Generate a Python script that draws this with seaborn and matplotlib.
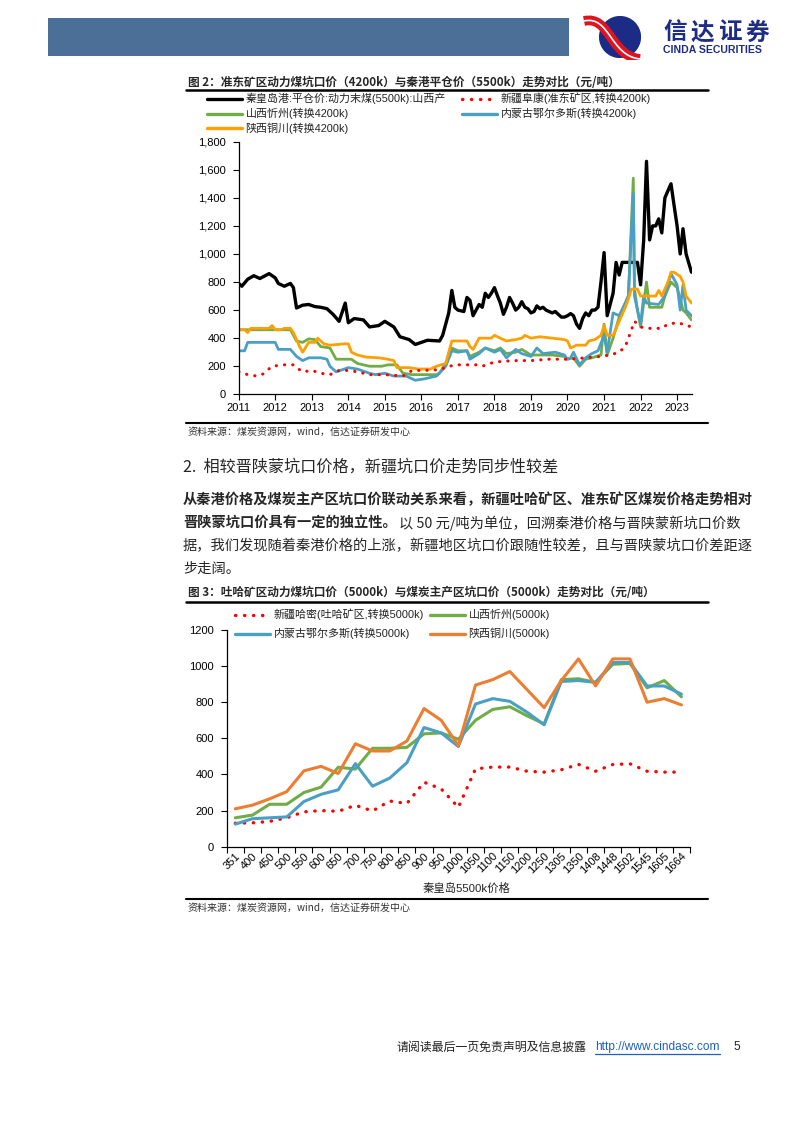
import numpy as np
import pandas as pd
import matplotlib.pyplot as plt
import matplotlib.dates as mdates
import seaborn as sns
from matplotlib.lines import Line2D
from matplotlib.patches import Rectangle, Circle, PathPatch
from matplotlib.path import Path
from matplotlib.ticker import FuncFormatter, MultipleLocator

# ---------------- 图2 data (thinned to turning points) ----------------
qhd_dates = ['2011-01', '2011-02', '2011-04', '2011-06', '2011-08', '2011-11', '2012-01', '2012-02',
             '2012-04', '2012-06', '2012-07', '2012-08', '2012-10', '2012-12', '2013-02', '2013-04',
             '2013-06', '2013-08', '2013-10', '2013-12', '2014-01', '2014-03', '2014-06', '2014-08',
             '2014-11', '2015-01', '2015-04', '2015-06', '2015-09', '2015-11', '2016-01', '2016-03',
             '2016-07', '2016-08', '2016-10', '2016-11', '2016-12', '2017-01', '2017-03', '2017-04',
             '2017-05', '2017-06', '2017-07', '2017-08', '2017-09', '2017-10', '2017-11', '2017-12',
             '2018-01', '2018-02', '2018-03', '2018-04', '2018-05', '2018-06', '2018-07', '2018-08',
             '2018-09', '2018-10', '2018-11', '2018-12', '2019-01', '2019-02', '2019-03', '2019-04',
             '2019-05', '2019-06', '2019-07', '2019-08', '2019-09', '2019-10', '2019-11', '2019-12',
             '2020-01', '2020-02', '2020-03', '2020-04', '2020-05', '2020-06', '2020-07', '2020-08',
             '2020-09', '2020-10', '2020-11', '2020-12', '2021-01', '2021-02', '2021-04', '2021-05',
             '2021-06', '2021-07', '2021-12', '2022-01', '2022-02', '2022-03', '2022-04', '2022-05',
             '2022-06', '2022-07', '2022-08', '2022-09', '2022-10', '2022-11', '2022-12', '2023-01',
             '2023-02', '2023-03', '2023-04', '2023-05-25']
qhd_vals = [790, 770, 820, 845, 825, 860, 830, 790,
            770, 790, 760, 615, 635, 640, 625, 620,
            610, 570, 520, 650, 510, 540, 530, 480,
            490, 520, 480, 410, 390, 355, 370, 385,
            380, 420, 580, 740, 620, 600, 590, 690,
            670, 560, 600, 640, 620, 720, 690, 720,
            760, 700, 650, 570, 620, 690, 650, 600,
            620, 660, 620, 610, 580, 590, 630, 610,
            620, 600, 590, 580, 590, 570, 550, 550,
            560, 575, 560, 500, 470, 540, 580, 560,
            600, 600, 620, 800, 1010, 560, 720, 940,
            850, 940, 940, 780, 1100, 1660, 1100, 1200,
            1200, 1250, 1150, 1400, 1450, 1500, 1350, 1200,
            1000, 1180, 1000, 870]

fukang_dates = ['2011-01', '2011-04', '2011-07', '2011-09', '2011-12', '2012-04', '2012-07', '2012-08',
                '2012-10', '2013-01', '2013-04', '2013-07', '2013-10', '2014-01', '2014-04', '2014-08',
                '2015-01', '2015-07', '2015-10', '2016-01', '2016-07', '2016-10', '2017-01', '2017-07',
                '2017-09', '2018-01', '2018-07', '2019-01', '2019-07', '2020-01', '2020-07', '2020-12',
                '2021-03', '2021-06', '2021-08', '2021-09', '2021-11', '2022-01', '2022-03', '2022-08',
                '2022-10', '2023-01', '2023-03', '2023-05-25']
fukang_vals = [160, 140, 130, 145, 200, 210, 210, 190,
               160, 170, 150, 140, 170, 170, 160, 140,
               140, 130, 170, 170, 175, 200, 210, 210,
               200, 230, 240, 240, 250, 250, 260, 270,
               280, 300, 340, 400, 520, 480, 470, 470,
               500, 510, 500, 480]

xz_dates = ['2011-01', '2012-06', '2012-08', '2012-10', '2012-12', '2013-02', '2013-04', '2013-07',
            '2013-09', '2014-02', '2014-04', '2014-08', '2014-12', '2015-02', '2015-05', '2015-07',
            '2015-10', '2016-06', '2016-07', '2016-09', '2016-11', '2017-01', '2017-04', '2017-05',
            '2017-08', '2017-10', '2018-01', '2018-03', '2018-05', '2018-08', '2018-10', '2019-01',
            '2019-04', '2019-08', '2019-12', '2020-01', '2020-03', '2020-05', '2020-07', '2020-09',
            '2020-12', '2021-01', '2021-02', '2021-04', '2021-06', '2021-08', '2021-09', '2021-10-20',
            '2021-11', '2021-12', '2022-01', '2022-02', '2022-03', '2022-04', '2022-08', '2022-09',
            '2022-11', '2023-01', '2023-02', '2023-03', '2023-04', '2023-05-25']
xz_vals = [460, 460, 380, 370, 395, 390, 340, 330,
           250, 250, 220, 200, 200, 210, 210, 150,
           140, 140, 150, 220, 330, 310, 310, 270,
           300, 330, 310, 330, 290, 300, 320, 280,
           280, 280, 270, 250, 260, 200, 250, 260,
           280, 500, 280, 400, 550, 650, 700, 1540,
           750, 600, 480, 650, 800, 620, 620, 700,
           800, 760, 680, 600, 580, 530]

eeds_dates = ['2011-01', '2011-03', '2011-04', '2012-01', '2012-02', '2012-06', '2012-08', '2012-10',
              '2012-12', '2013-04', '2013-06', '2013-07', '2013-09', '2014-01', '2014-04', '2014-08',
              '2014-10', '2015-01', '2015-04', '2015-08', '2015-11', '2016-02', '2016-04', '2016-06',
              '2016-09', '2016-11', '2017-01', '2017-04', '2017-05', '2017-08', '2017-10', '2018-01',
              '2018-03', '2018-05', '2018-08', '2018-10', '2019-01', '2019-03', '2019-05', '2019-09',
              '2019-12', '2020-01', '2020-02', '2020-03', '2020-05', '2020-07', '2020-09', '2020-11',
              '2021-01', '2021-02', '2021-04', '2021-06', '2021-08', '2021-09', '2021-10-20', '2021-11',
              '2021-12', '2022-01', '2022-02', '2022-03', '2022-07', '2022-09', '2022-11', '2023-01',
              '2023-02', '2023-03', '2023-04', '2023-05-25']
eeds_vals = [310, 310, 370, 370, 320, 320, 270, 240,
             260, 260, 250, 200, 160, 190, 180, 150,
             140, 150, 130, 130, 100, 110, 120, 130,
             200, 310, 300, 310, 250, 290, 330, 300,
             320, 260, 320, 290, 270, 330, 290, 300,
             280, 250, 260, 300, 210, 260, 290, 310,
             420, 300, 580, 560, 650, 700, 1430, 700,
             600, 500, 700, 650, 640, 700, 860, 780,
             600, 780, 600, 560]

tc_dates = ['2011-01', '2011-03', '2011-04', '2011-05', '2011-11', '2011-12', '2012-01', '2012-03',
            '2012-04', '2012-06', '2012-07', '2012-09', '2012-10', '2012-12', '2013-02', '2013-03',
            '2013-05', '2013-07', '2013-12', '2014-01', '2014-02', '2014-04', '2014-07', '2014-11',
            '2015-02', '2015-04', '2015-05', '2015-09', '2015-12', '2016-04', '2016-06', '2016-09',
            '2016-10', '2016-11', '2017-04', '2017-05', '2017-06', '2017-08', '2017-12', '2018-01',
            '2018-03', '2018-05', '2018-08', '2018-10', '2018-11', '2019-01', '2019-04', '2019-08',
            '2019-12', '2020-01', '2020-02', '2020-04', '2020-07', '2020-08', '2020-10', '2020-12',
            '2021-01', '2021-02', '2021-04', '2021-06', '2021-08', '2021-09', '2021-10', '2021-12',
            '2022-01', '2022-06', '2022-07', '2022-08', '2022-10', '2022-11', '2022-12', '2023-02',
            '2023-03', '2023-04', '2023-05-25']
tc_vals = [460, 460, 440, 470, 470, 490, 460, 460,
           470, 470, 440, 340, 300, 370, 370, 400,
           360, 350, 360, 360, 300, 280, 265, 260,
           250, 240, 190, 190, 180, 180, 200, 220,
           300, 380, 380, 340, 320, 400, 400, 420,
           400, 380, 390, 400, 420, 400, 410, 400,
           390, 380, 330, 350, 350, 380, 390, 420,
           490, 420, 420, 520, 620, 680, 750, 750,
           700, 700, 740, 700, 800, 870, 870, 840,
           800, 700, 650]

# ---------------- 图3 data ----------------
qhd_price = ['351', '400', '450', '500', '550', '600', '650', '700', '750', '800', '850', '900', '950',
             '1000', '1050', '1100', '1150', '1200', '1250', '1305', '1350', '1408', '1448', '1502',
             '1545', '1605', '1664']
hami = [130, 132, 140, 160, 193, 200, 196, 229, 198, 253, 239, 357, 320,
        218, 431, 441, 441, 418, 413, 426, 456, 418, 455, 459, 418, 413, 413]
xinzhou = [160, 175, 235, 235, 300, 330, 440, 430, 545, 545, 550, 625, 630,
           595, 700, 760, 775, 725, 680, 925, 930, 910, 1010, 1015, 880, 920, 830]
ordos = [125, 155, 160, 165, 250, 290, 315, 460, 335, 380, 465, 660, 630,
         555, 790, 820, 805, 745, 675, 915, 920, 910, 1020, 1020, 890, 890, 845]
tongchuan = [210, 230, 265, 305, 420, 445, 405, 570, 530, 530, 585, 765, 700,
             560, 895, 925, 970, 870, 770, 920, 1040, 890, 1040, 1040, 800, 820, 785]

RED, GREEN, BLUE, ORANGE = '#ff0000', '#70ad47', '#4a9fc4', '#ffa000'
DOT = (0, (0.1, 2.6))


def dt(d):
    return pd.to_datetime(d, format='ISO8601')


sns.set_theme(style='ticks', rc={"axes.spines.right": False, "axes.spines.top": False})
plt.rcParams['font.family'] = ['Liberation Sans', 'Noto Sans CJK SC']
plt.rcParams['axes.unicode_minus'] = False
CJK = ['Noto Sans CJK SC', 'DejaVu Sans']

W, H = 793, 1122
fig = plt.figure(figsize=(W / 100, H / 100), dpi=100)
fig.patch.set_facecolor('white')


def fx(x):
    return x / W


def fy(y):
    return 1 - y / H


def txt(x, y, s, size=8, **kw):
    kw.setdefault('va', 'center')
    return fig.text(fx(x), fy(y), s, fontsize=size, **kw)


def rule(x0, x1, y, lw=1.8, color='black'):
    fig.add_artist(Line2D([fx(x0), fx(x1)], [fy(y), fy(y)], lw=lw, color=color,
                          transform=fig.transFigure))


def leg(x, y, label, color, lw=2.4, length=35, dotted=False):
    kw = dict(linestyle=DOT, dash_capstyle='round', lw=2.4) if dotted else dict(lw=lw)
    fig.add_artist(Line2D([fx(x), fx(x + length)], [fy(y), fy(y)], color=color,
                          transform=fig.transFigure, **kw))
    txt(x + length + 3.5, y, label, size=7.9, color='#222222')


# ---------------- header ----------------
fig.add_artist(Rectangle((fx(48), fy(56)), (569 - 48) / W, 38 / H, transform=fig.transFigure,
                         color='#4b6f97', lw=0))
axl = fig.add_axes([fx(580), fy(60), 70 / W, 46 / H])
axl.set_xlim(0, 70)
axl.set_ylim(0, 46)
axl.axis('off')
circ = Circle((40, 23), 21, color='#1c2b86', lw=0)
axl.add_patch(circ)
gx, gy = np.meshgrid(np.linspace(0, 1, 60), np.linspace(0, 1, 60))
shade = np.clip(1.15 - np.hypot(gx - 0.15, gy - 0.85) * 1.1, 0, 1)
im = axl.imshow(shade, extent=(19, 61, 2, 44), origin='lower', cmap='Blues_r', vmin=-0.2, vmax=1.6,
                alpha=0.8)
im.set_clip_path(circ)
sw = Path([(4, 39), (30, 45), (30, 4), (60, 1)], [Path.MOVETO, Path.CURVE4, Path.CURVE4, Path.CURVE4])
axl.add_patch(PathPatch(sw, fc='none', ec='#e0141e', lw=7, capstyle='butt'))
axl.add_patch(PathPatch(sw, fc='none', ec='white', lw=1.2))
for i, ch in enumerate('信达证券'):
    txt(663 + i * 27.5, 33, ch, size=17, weight='bold', color='#1d2c86', family=CJK)
txt(663, 50, 'CINDA SECURITIES', size=7.6, weight='bold', color='#1d2c86')

# ---------------- 图2 ----------------
txt(188, 82, '图 2：准东矿区动力煤坑口价（4200k）与秦港平仓价（5500k）走势对比（元/吨）',
    size=8.4, weight='bold', family=CJK)
rule(186, 708, 90)

leg(207, 98.5, '秦皇岛港:平仓价:动力末煤(5500k):山西产', 'black')
leg(462, 98.5, '新疆阜康(准东矿区,转换4200k)', RED, dotted=True)
leg(207, 113.5, '山西忻州(转换4200k)', GREEN)
leg(462, 113.5, '内蒙古鄂尔多斯(转换4200k)', BLUE)
leg(207, 128, '陕西铜川(转换4200k)', ORANGE)

ax1 = fig.add_axes([fx(238.7), fy(394.3), (692 - 238.7) / W, (394.3 - 141.7) / H])
ax1.patch.set_alpha(0)
sns.lineplot(x=dt(qhd_dates), y=qhd_vals, ax=ax1, color='black', lw=2.4)
sns.lineplot(x=dt(xz_dates), y=xz_vals, ax=ax1, color=GREEN, lw=2.0)
sns.lineplot(x=dt(eeds_dates), y=eeds_vals, ax=ax1, color=BLUE, lw=2.0)
sns.lineplot(x=dt(tc_dates), y=tc_vals, ax=ax1, color=ORANGE, lw=2.0)
sns.lineplot(x=dt(fukang_dates), y=fukang_vals, ax=ax1, color=RED, lw=2.2,
             linestyle=DOT, dash_capstyle='round')

ax1.set_xlim(pd.Timestamp('2011-01-01'), pd.Timestamp('2023-05-30'))
ax1.set_ylim(0, 1800)
ax1.yaxis.set_major_locator(MultipleLocator(200))
ax1.yaxis.set_major_formatter(FuncFormatter(lambda v, p: f'{v:,.0f}'))
ax1.xaxis.set_major_locator(mdates.YearLocator())
ax1.xaxis.set_major_formatter(mdates.DateFormatter('%Y'))
ax1.set_xlabel('')
ax1.set_ylabel('')

rule(186, 708, 423, lw=1.5)
txt(188, 432, '资料来源：煤炭资源网，wind，信达证券研发中心', size=7.2, color='#333333', family=CJK,
    style='italic')

# ---------------- text ----------------
txt(183, 467, '2.  相较晋陕蒙坑口价格，新疆坑口价走势同步性较差', size=11.6, family=CJK)
txt(183, 500, '从秦港价格及煤炭主产区坑口价联动关系来看，新疆吐哈矿区、准东矿区煤炭价格走势相对',
    size=10.25, weight='bold', family=CJK)
b = txt(183, 523, '晋陕蒙坑口价具有一定的独立性。', size=10.25, weight='bold', family=CJK)
bb = b.get_window_extent(renderer=fig.canvas.get_renderer())
txt(bb.x1 + 2, 523, '以 50 元/吨为单位，回溯秦港价格与晋陕蒙新坑口价数', size=10.25, family=CJK)
txt(183, 546, '据，我们发现随着秦港价格的上涨，新疆地区坑口价跟随性较差，且与晋陕蒙坑口价差距逐',
    size=10.25, family=CJK)
txt(183, 569, '步走阔。', size=10.25, family=CJK)

# ---------------- 图3 ----------------
txt(188, 593, '图 3：吐哈矿区动力煤坑口价（5000k）与煤炭主产区坑口价（5000k）走势对比（元/吨）',
    size=8.4, weight='bold', family=CJK)
rule(186, 708, 601.5)

leg(235, 614.5, '新疆哈密(吐哈矿区,转换5000k)', RED, dotted=True)
leg(430, 614.5, '山西忻州(5000k)', '#70ad47')
leg(235, 633.5, '内蒙古鄂尔多斯(转换5000k)', '#4a9fc5')
leg(430, 633.5, '陕西铜川(5000k)', '#ed7d31')

ax2 = fig.add_axes([fx(226.7), fy(846.7), (690 - 226.7) / W, (846.7 - 630) / H])
ax2.patch.set_alpha(0)
pos = np.arange(len(qhd_price))
sns.lineplot(x=pos, y=hami, ax=ax2, color=RED, lw=2.4, linestyle=DOT, dash_capstyle='round')
sns.lineplot(x=pos, y=xinzhou, ax=ax2, color='#70ad47', lw=2.2)
sns.lineplot(x=pos, y=ordos, ax=ax2, color='#4a9fc5', lw=2.2)
sns.lineplot(x=pos, y=tongchuan, ax=ax2, color='#ed7d31', lw=2.2)

ax2.set_xlim(-0.5, len(qhd_price) - 0.5)
ax2.set_ylim(0, 1200)
ax2.yaxis.set_major_locator(MultipleLocator(200))
ax2.set_xticks(np.arange(-0.5, len(qhd_price), 1))
ax2.set_xticklabels([])
ax2.set_xticks(pos, minor=True)
ax2.set_xticklabels(qhd_price, minor=True, rotation=45, ha='right', rotation_mode='anchor')
ax2.tick_params(axis='x', which='minor', length=0, pad=3, labelsize=8, colors='black')
ax2.set_ylabel('')
ax2.set_xlabel('秦皇岛5500k价格', fontsize=8.2, color='#222222')
ax2.xaxis.set_label_coords((467 - 226.7) / (690 - 226.7), -0.165)

for ax in (ax1, ax2):
    ax.tick_params(which='major', labelsize=8, length=4, width=0.8, colors='black', pad=2)
    ax.tick_params(axis='y', pad=5)
    for s in ('left', 'bottom'):
        ax.spines[s].set_color('black')
        ax.spines[s].set_linewidth(0.9)

rule(186, 708, 899, lw=1.5)
txt(188, 908, '资料来源：煤炭资源网，wind，信达证券研发中心', size=7.2, color='#333333', family=CJK,
    style='italic')

# ---------------- footer ----------------
txt(397, 1047, '请阅读最后一页免责声明及信息披露', size=8.6, color='#222222', family=CJK)
u = txt(595, 1047, 'http://www.cindasc.com', size=8.6, color='#1f5fbf')
ub = u.get_window_extent(renderer=fig.canvas.get_renderer())
rule(595, ub.x1, 1054, lw=0.9, color='#1f5fbf')
txt(733, 1047, '5', size=8.6, color='#222222')

fig.savefig('out.png', dpi=100)
